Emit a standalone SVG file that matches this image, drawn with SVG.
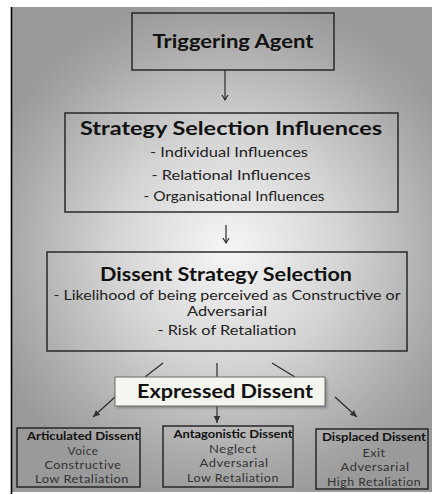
<svg xmlns="http://www.w3.org/2000/svg" width="432" height="494" viewBox="0 0 432 494">
<defs>
<radialGradient id="bg" gradientUnits="userSpaceOnUse" cx="228" cy="250" r="255">
<stop offset="0" stop-color="#f6f6f6"/>
<stop offset="0.45" stop-color="#d4d4d4"/>
<stop offset="0.85" stop-color="#a8a8a8"/>
<stop offset="1" stop-color="#9a9a9a"/>
</radialGradient>
<filter id="sh" x="-10%" y="-30%" width="130%" height="180%">
<feGaussianBlur stdDeviation="1.5"/>
</filter>
<marker id="open" markerWidth="8" markerHeight="8" refX="6" refY="4" orient="auto" markerUnits="userSpaceOnUse">
<path d="M1,1 L6,4 L1,7" fill="none" stroke="#222" stroke-width="1.1"/>
</marker>
<marker id="tri" markerWidth="8" markerHeight="8" refX="7" refY="4" orient="auto" markerUnits="userSpaceOnUse">
<path d="M0,0.8 L7,4 L0,7.2 Z" fill="#333"/>
</marker>
</defs>
<style>
.box{fill:none;stroke:#1e1e1e;stroke-width:1.4}
.t{font-family:Lato,"Liberation Sans",sans-serif;text-anchor:middle}
.h{font-weight:bold;fill:#111}
.s{fill:#222}
.g{fill:#333;letter-spacing:0.5px}
.c{stroke:#2a2a2a;stroke-width:1.2;fill:none}
</style>
<rect x="0" y="0" width="432" height="494" fill="#ffffff"/>
<rect x="12" y="7" width="420" height="485" fill="url(#bg)"/>
<line x1="11.5" y1="7" x2="11.5" y2="494" stroke="#000" stroke-width="1.6"/>

<g id="connectors">
<line class="c" x1="225" y1="70" x2="225" y2="100" marker-end="url(#open)"/>
<line class="c" x1="226" y1="225" x2="226" y2="243" marker-end="url(#open)"/>
<line class="c" x1="163" y1="363" x2="145" y2="377"/>
<line class="c" x1="217" y1="363" x2="217" y2="377"/>
<line class="c" x1="272" y1="363" x2="295" y2="377"/>
<line class="c" x1="115" y1="397" x2="93" y2="417" marker-end="url(#tri)"/>
<line class="c" x1="217" y1="406" x2="217" y2="423" marker-end="url(#tri)"/>
<line class="c" x1="335" y1="397" x2="357" y2="417" marker-end="url(#tri)"/>
</g>

<g id="triggering-agent">
<rect class="box" x="132" y="13" width="202" height="57"/>
<text class="t h" x="233" y="48" font-size="19.5" textLength="161" lengthAdjust="spacingAndGlyphs">Triggering Agent</text>
</g>

<g id="strategy-selection-influences">
<rect class="box" x="65" y="113" width="333" height="99"/>
<text class="t h" x="231" y="135" font-size="19.5" textLength="302" lengthAdjust="spacingAndGlyphs">Strategy Selection Influences</text>
<text class="t s" x="229" y="157" font-size="13.5" textLength="158" lengthAdjust="spacingAndGlyphs">- Individual Influences</text>
<text class="t s" x="231" y="180" font-size="13.5" textLength="159" lengthAdjust="spacingAndGlyphs">- Relational Influences</text>
<text class="t s" x="234" y="201" font-size="13.5" textLength="181" lengthAdjust="spacingAndGlyphs">- Organisational Influences</text>
</g>

<g id="dissent-strategy-selection">
<rect class="box" x="47" y="252" width="360" height="99"/>
<text class="t h" x="226" y="281" font-size="18.5" textLength="252" lengthAdjust="spacingAndGlyphs">Dissent Strategy Selection</text>
<text class="t s" x="227" y="300" font-size="13.5" textLength="347" lengthAdjust="spacingAndGlyphs">- Likelihood of being perceived as Constructive or</text>
<text class="t s" x="227" y="316" font-size="13.5" textLength="80" lengthAdjust="spacingAndGlyphs">Adversarial</text>
<text class="t s" x="227" y="335" font-size="13.5" textLength="139" lengthAdjust="spacingAndGlyphs">- Risk of Retaliation</text>
</g>

<g id="expressed-dissent">
<rect x="117" y="379" width="210" height="29" fill="#555" opacity="0.55" filter="url(#sh)"/>
<rect x="115" y="377" width="210" height="29" fill="#f5f5ef" stroke="#6a6a6a" stroke-width="1"/>
<text class="t h" x="225" y="398" font-size="18.5" textLength="176" lengthAdjust="spacingAndGlyphs">Expressed Dissent</text>
</g>

<g id="articulated-dissent">
<rect class="box" x="17" y="428" width="123" height="59"/>
<text class="t h" x="83" y="440" font-size="12" textLength="112" lengthAdjust="spacingAndGlyphs">Articulated Dissent</text>
<text class="t g" x="83" y="455" font-size="12" textLength="31" lengthAdjust="spacingAndGlyphs">Voice</text>
<text class="t g" x="83" y="469" font-size="12" textLength="77" lengthAdjust="spacingAndGlyphs">Constructive</text>
<text class="t g" x="82" y="483" font-size="12" textLength="94" lengthAdjust="spacingAndGlyphs">Low Retaliation</text>
</g>

<g id="antagonistic-dissent">
<rect class="box" x="163" y="426" width="130" height="61"/>
<text class="t h" x="233" y="438" font-size="12" textLength="119" lengthAdjust="spacingAndGlyphs">Antagonistic Dissent</text>
<text class="t g" x="233" y="453" font-size="12" textLength="48" lengthAdjust="spacingAndGlyphs">Neglect</text>
<text class="t g" x="234" y="467" font-size="12" textLength="69" lengthAdjust="spacingAndGlyphs">Adversarial</text>
<text class="t g" x="233" y="482" font-size="12" textLength="92" lengthAdjust="spacingAndGlyphs">Low Retaliation</text>
</g>

<g id="displaced-dissent">
<rect class="box" x="316" y="429" width="112" height="60"/>
<text class="t h" x="374" y="441" font-size="12" textLength="104" lengthAdjust="spacingAndGlyphs">Displaced Dissent</text>
<text class="t g" x="374" y="457" font-size="12" textLength="23" lengthAdjust="spacingAndGlyphs">Exit</text>
<text class="t g" x="375" y="471" font-size="12" textLength="69" lengthAdjust="spacingAndGlyphs">Adversarial</text>
<text class="t g" x="374" y="486" font-size="12" textLength="94" lengthAdjust="spacingAndGlyphs">High Retaliation</text>
</g>
</svg>
